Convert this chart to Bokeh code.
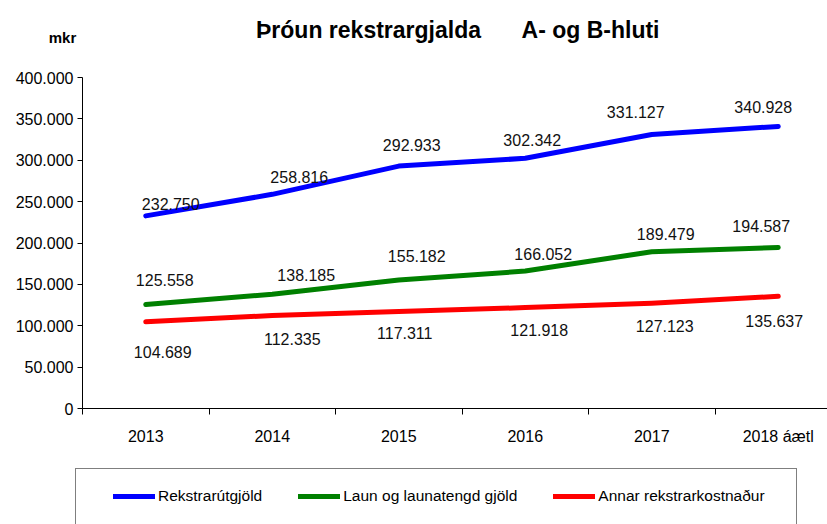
from bokeh.plotting import figure
from bokeh.models import Range1d, FixedTicker, Legend, LegendItem, Label, ColumnDataSource
from bokeh.embed import file_html
from bokeh.resources import INLINE
from bokeh.core.properties import value

# ---- data ----
years = ["2013", "2014", "2015", "2016", "2017", "2018 áætl"]
rekstrarutgjold = [232750, 258816, 292933, 302342, 331127, 340928]
laun = [125558, 138185, 155182, 166052, 189479, 194587]
annar = [104689, 112335, 117311, 121918, 127123, 135637]
series_names = ["Rekstrarútgjöld", "Laun og launatengd gjöld", "Annar rekstrarkostnaður"]
y_ticks = [0, 50000, 100000, 150000, 200000, 250000, 300000, 350000, 400000]
y_tick_labels = ["0", "50.000", "100.000", "150.000", "200.000", "250.000",
                 "300.000", "350.000", "400.000"]
title_left = "Þróun rekstrargjalda"
title_right = "A- og B-hluti"
unit_label = "mkr"

# ---- label placement (pixels, styling only) ----
blue_dx = [25, 27, 13, 7, -16, -15]
blue_dy = [-12, -17, -21, -18, -22, -19]
green_dx = [19, 34, 18, 18, 14, -17]
green_dy = [-25, -19, -24, -17, -18, -21]
red_dx = [17, 20, 6, 14, 13, -4]
red_dy = [30, 23, 22, 22, 23, 25]

FONT = "Liberation Sans"
W = 827
CAT_PX = 126.5
FRAME_W = W - 82
colors = ["#0000FF", "#008000", "#FF0000"]

x_pos = [i + 0.5 for i in range(len(years))]
all_series = [rekstrarutgjold, laun, annar]

def fmt(v):
    return f"{v:,}".replace(",", ".")

# ---------- title strip ----------
TH = 60
tf = figure(width=W, height=TH, output_backend="svg", toolbar_location=None,
            x_range=Range1d(0, W), y_range=Range1d(TH, 0),
            x_axis_location=None, y_axis_location=None, min_border=0)
tf.outline_line_color = None
tf.grid.visible = False
tf.add_layout(Label(x=368, y=29, text=title_left, text_align="center",
                    text_baseline="middle", text_font=FONT, text_font_size="23px",
                    text_font_style="bold", text_color="black"))
tf.add_layout(Label(x=590, y=29, text=title_right, text_align="center",
                    text_baseline="middle", text_font=FONT, text_font_size="23px",
                    text_font_style="bold", text_color="black"))
tf.add_layout(Label(x=62, y=37, text=unit_label, text_align="center",
                    text_baseline="middle", text_font=FONT, text_font_size="15px",
                    text_font_style="bold", text_color="black"))

# ---------- main chart ----------
p = figure(width=W, height=400, output_backend="svg", toolbar_location=None,
           x_range=Range1d(0, FRAME_W / CAT_PX), y_range=Range1d(0, 400000),
           min_border_left=82, min_border_right=0, min_border_top=17, min_border_bottom=52)
p.outline_line_color = None
p.xgrid.visible = False
p.ygrid.visible = False

xa = p.xaxis[0]
xa.ticker = FixedTicker(ticks=x_pos, minor_ticks=list(range(len(years) + 1)))
xa.major_label_overrides = {x: y for x, y in zip(x_pos, years)}
xa.major_tick_out = 0
xa.major_tick_in = 0
xa.minor_tick_out = 6
xa.minor_tick_in = 0
xa.minor_tick_line_color = "black"
xa.axis_line_color = "black"
xa.major_label_standoff = 13
xa.major_label_text_font = FONT
xa.major_label_text_font_size = "16px"
xa.major_label_text_color = "black"

ya = p.yaxis[0]
ya.ticker = FixedTicker(ticks=y_ticks, minor_ticks=[])
ya.major_label_overrides = {t: l for t, l in zip(y_ticks, y_tick_labels)}
ya.major_tick_out = 5
ya.major_tick_in = 0
ya.major_tick_line_color = "black"
ya.axis_line_color = "black"
ya.major_label_standoff = 4
ya.major_label_text_font = FONT
ya.major_label_text_font_size = "16px"
ya.major_label_text_color = "black"

dxs = [blue_dx, green_dx, red_dx]
dys = [blue_dy, green_dy, red_dy]
sources = []
for vals, col, dx, dy in zip(all_series, colors, dxs, dys):
    src = ColumnDataSource(dict(x=x_pos, y=vals, txt=[fmt(v) for v in vals], dx=dx, dy=dy))
    sources.append(src)
    p.line("x", "y", source=src, line_color=col, line_width=5,
           line_cap="round", line_join="round")
    p.text("x", "y", text="txt", source=src, x_offset="dx", y_offset="dy",
           text_align="center", text_baseline="middle",
           text_font=value(FONT), text_font_size="16px", text_color="#111111")

# ---------- legend strip ----------
LH = 524 - TH - 400
lf = figure(width=W, height=LH, output_backend="svg", toolbar_location=None,
            x_range=Range1d(0, 1), y_range=Range1d(0, 1),
            x_axis_location=None, y_axis_location=None, min_border=0)
lf.outline_line_color = None
lf.grid.visible = False

# legend swatches use the series sources; their lines lie outside this strip's ranges
legend_renderers = [lf.line("x", "y", source=s, line_color=c, line_width=5, line_cap="round")
                    for s, c in zip(sources, colors)]
frame_renderer = lf.line("x", "y", source=sources[0], line_alpha=0)

box = Legend(items=[LegendItem(label=" ", renderers=[frame_renderer])],
             location=(75, LH - 10 - 90),
             orientation="horizontal", glyph_width=720, glyph_height=90,
             label_width=0, label_standoff=0, label_height=20, padding=0, margin=0,
             border_line_color="black", border_line_width=1,
             background_fill_color="white", background_fill_alpha=1,
             label_text_font_size="8px")
lf.add_layout(box, "center")

legend = Legend(items=[LegendItem(label=n, renderers=[r])
                       for n, r in zip(series_names, legend_renderers)],
                location=(113, LH - 29 - 16), orientation="horizontal",
                glyph_width=42, glyph_height=16, label_height=16, label_width=0,
                label_standoff=3, spacing=36, padding=0, margin=0,
                border_line_color=None, background_fill_alpha=0,
                label_text_font=FONT, label_text_font_size="15.5px",
                label_text_color="black")
lf.add_layout(legend, "center")

open("out.html", "w").write(file_html([tf, p, lf], INLINE))
